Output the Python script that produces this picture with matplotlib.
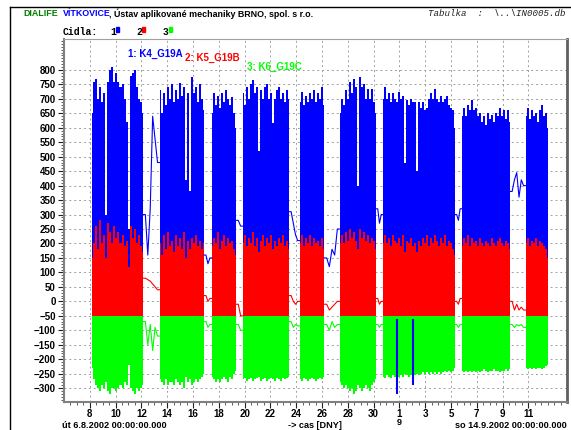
import numpy as np
import matplotlib
matplotlib.use("Agg")
import matplotlib.pyplot as plt
from matplotlib.lines import Line2D
from matplotlib.patches import Rectangle
from matplotlib.transforms import blended_transform_factory

W, H = 571, 430

# time axis: days from 6.8.2002 00:00
x_start, x_end = 0, 39
tick_days = [2, 4, 6, 8, 10, 12, 14, 16, 18, 20, 22, 24, 26, 28, 30, 32, 34, 36]
tick_labels = ["8", "10", "12", "14", "16", "18", "20", "22", "24", "26", "28",
               "30", "1", "3", "5", "7", "9", "11"]
month_day, month_label = 26, "9"
y_ticks = list(range(-300, 801, 50))

# active measuring blocks (start day, end day)
block_start = [2.17, 7.44, 11.47, 13.88, 18.29, 21.40, 24.73, 30.85, 35.81]
block_end = [6.12, 10.85, 13.33, 17.44, 20.16, 24.19, 30.31, 34.57, 37.52]

# sensor 1 (K4_G19A) - upper envelope in each block
blue_peaks = [
    [650, 760, 770, 700, 740, 690, 720, 300, 760, 800, 810, 760, 790, 760, 740, 750, 700, 620, 250, 780, 790, 800, 740, 700, 690, 650],
    [730, 650, 720, 680, 740, 700, 750, 690, 730, 700, 755, 710, 740, 420, 720, 380, 775, 720, 740, 690, 750, 700, 660],
    [650, 720, 680, 710, 670, 720, 690, 730, 700, 680, 705, 650, 600],
    [720, 680, 740, 700, 750, 765, 720, 740, 520, 730, 700, 740, 750, 700, 720, 615, 700, 730, 740, 700, 720, 690, 730, 700],
    [690, 725, 680, 710, 690, 720, 700, 730, 690, 720, 700, 740, 680],
    [650, 700, 680, 730, 700, 760, 720, 770, 740, 400, 775, 740, 750, 700, 735, 700, 735, 690, 650],
    [700, 740, 700, 720, 690, 720, 700, 690, 725, 700, 710, 480, 695, 680, 700, 690, 690, 450, 690, 670, 690, 660, 670, 700, 720, 700, 735, 700, 690, 710, 690, 700, 710, 680, 670, 660, 600],
    [640, 670, 640, 680, 660, 695, 660, 670, 640, 650, 620, 640, 610, 650, 630, 645, 620, 650, 640, 670, 640, 660, 630, 660, 620],
    [640, 670, 630, 660, 640, 650, 620, 660, 680, 640, 650, 600],
]
blue_low = -80
# sensor 1 between blocks
blue_gaps = [
    [300, 160, 320, 640, 560, 480],
    [160, 130, 150],
    [280, 260],
    [310, 270, 230, 210],
    [150, 120, 180, 160, 250],
    [320, 270, 300],
    [300, 280, 320],
    [380, 420, 445, 360, 420, 400],
]
blue_spike_days = [25.81, 27.05]
blue_spike_low = [-320, -290]

# sensor 2 (K5_G19B)
red_peaks = [
    [150, 200, 260, 180, 280, 200, 230, 150, 270, 240, 200, 260, 220, 240, 200, 230, 190, 210, 120, 260, 220, 250, 200, 230, 190, 170],
    [200, 160, 230, 180, 240, 190, 210, 170, 230, 190, 220, 180, 240, 150, 210, 180, 220, 200, 230, 190, 210, 180, 200],
    [190, 220, 200, 240, 180, 210, 230, 190, 220, 200, 210, 180, 160],
    [200, 230, 190, 220, 200, 240, 190, 220, 170, 210, 230, 190, 220, 200, 230, 180, 210, 190, 220, 200, 230, 190, 210, 180],
    [200, 230, 190, 220, 200, 230, 190, 220, 200, 210, 190, 220, 180],
    [200, 230, 200, 240, 210, 250, 220, 240, 210, 180, 250, 220, 240, 210, 230, 200, 220, 210, 180],
    [200, 230, 200, 220, 190, 230, 210, 200, 220, 190, 230, 170, 210, 200, 220, 190, 200, 170, 210, 190, 220, 200, 230, 190, 220, 200, 230, 210, 190, 220, 200, 230, 190, 210, 200, 180, 160],
    [190, 220, 200, 230, 190, 220, 200, 210, 190, 220, 200, 190, 210, 200, 190, 220, 200, 190, 210, 220, 200, 190, 210, 200, 180],
    [200, 220, 190, 210, 200, 220, 190, 210, 200, 190, 180, 150],
]
red_low = -55
red_gaps = [
    [80, 75, 70, 60, 50, 40],
    [20, 0, 10],
    [-10, -50],
    [20, 0, -10, 0],
    [-10, -30, -20, -10, 0],
    [10, -10, 0],
    [0, -10, 10],
    [0, -30, -10, -30, -20, -30],
]

# sensor 3 (K6_G19C) - lower envelope in each block
green_troughs = [
    [-230, -270, -290, -300, -310, -290, -300, -280, -310, -320, -300, -300, -310, -300, -290, -300, -280, -290, -220, -300, -310, -320, -300, -310, -300, -290],
    [-270, -280, -290, -270, -290, -280, -280, -290, -270, -280, -290, -280, -300, -260, -280, -270, -290, -280, -270, -280, -270, -260, -250],
    [-260, -270, -280, -270, -280, -270, -260, -270, -280, -260, -270, -250, -240],
    [-270, -265, -275, -270, -265, -275, -270, -265, -260, -275, -270, -265, -275, -270, -265, -270, -275, -265, -270, -275, -265, -270, -265, -260],
    [-270, -275, -265, -270, -275, -270, -265, -270, -275, -270, -265, -270, -260],
    [-280, -290, -300, -290, -300, -310, -300, -320, -310, -290, -300, -310, -300, -290, -300, -310, -290, -280, -270],
    [-260, -265, -255, -260, -265, -255, -260, -270, -260, -255, -260, -250, -255, -260, -255, -250, -255, -250, -255, -250, -245, -250, -245, -250, -245, -250, -245, -250, -245, -250, -245, -240, -245, -240, -245, -240, -230],
    [-240, -245, -240, -245, -240, -245, -240, -245, -240, -245, -240, -235, -240, -245, -240, -240, -235, -240, -240, -245, -240, -240, -235, -240, -235],
    [-230, -235, -230, -235, -230, -235, -230, -230, -235, -230, -225, -220],
]
green_high = -50
green_gaps = [
    [-70, -150, -80, -170, -90, -120],
    [-70, -90, -80],
    [-80, -100],
    [-70, -90, -80, -85],
    [-80, -100, -70, -90, -80],
    [-80, -90, -80],
    [-80, -90, -80],
    [-80, -90, -80, -85, -80, -90],
]

BLUE, RED, GREEN = "#0000ff", "#ff0000", "#00ff00"


def draw_series(ax, env, other, gaps, color, upper=True):
    for i, vals in enumerate(env):
        t = np.linspace(block_start[i], block_end[i], len(vals))
        if upper:
            ax.fill_between(t, other, vals, step="mid", color=color, lw=0)
        else:
            ax.fill_between(t, vals, other, step="mid", color=color, lw=0)
    for i, g in enumerate(gaps):
        t = np.linspace(block_end[i], block_start[i + 1], len(g) + 2)
        ax.plot(t, [g[0]] + g + [g[-1]], color=color, lw=0.8)


fig = plt.figure(figsize=(W / 100, H / 100), dpi=100)
fig.patch.set_facecolor("white")
ax = fig.add_axes([64 / W, 1 - 402 / H, 503 / W, 363 / H])

draw_series(ax, blue_peaks, blue_low, blue_gaps, BLUE)
draw_series(ax, red_peaks, red_low, red_gaps, RED)
draw_series(ax, green_troughs, green_high, green_gaps, GREEN, upper=False)
ax.vlines(blue_spike_days, blue_spike_low, -60, color=BLUE, lw=1.5)

ax.set_xlim(x_start, x_end)
ax.set_ylim(-348, 907)

ax.set_yticks(y_ticks)
ax.set_yticks(range(-340, 901, 10), minor=True)
ax.set_xticks(tick_days)
ax.set_xticklabels(tick_labels)
ax.set_xticks(np.arange(0.5, 39, 0.5), minor=True)
ax.tick_params(axis="both", which="major", length=4, width=0.8, pad=2,
               labelsize=7, colors="#222222")
ax.tick_params(axis="x", which="major", pad=1)
ax.tick_params(axis="both", which="minor", length=2, width=0.6, colors="#444444")
for lab in ax.get_xticklabels() + ax.get_yticklabels():
    lab.set_fontweight("bold")
    lab.set_fontfamily("Liberation Sans")
    lab.set_color("black")

# month number under the "1" of September
trans = blended_transform_factory(ax.transData, fig.transFigure)
ax.text(month_day, 1 - 418 / H, month_label, transform=trans, ha="center", va="top",
        fontsize=6.5, fontweight="bold", family="Liberation Sans", clip_on=False)

ax.grid(True, which="major", color="#a0a0a0", lw=0.7, ls=(0, (2, 3)))
ax.set_axisbelow(True)

ax.spines["left"].set_color("#808080")
ax.spines["left"].set_linewidth(1.5)
ax.spines["bottom"].set_color("#808080")
ax.spines["bottom"].set_linewidth(1.5)
ax.spines["top"].set_color("#a0a0a0")
ax.spines["top"].set_linewidth(0.8)
ax.spines["right"].set_color("#606060")
ax.spines["right"].set_linewidth(2)


def ftext(x, y, s, **kw):
    fig.text(x / W, 1 - y / H, s, **kw)


# outer frame
fig.add_artist(Line2D([10 / W, 1], [1 - 7 / H, 1 - 7 / H], color="black", lw=1))
fig.add_artist(Line2D([10 / W, 10 / W], [0, 1 - 7 / H], color="black", lw=1))

# header
hdr = dict(fontsize=6.4, fontweight="bold", family="Liberation Sans", va="center")
ftext(23, 14, "DIALIFE", color="#008000", **hdr)
ftext(63, 14, "VÍTKOVICE", color="#0000ff", **hdr)
ftext(109, 14, ", Ústav aplikované mechaniky BRNO, spol. s r.o.", color="black", **hdr)
ftext(566, 14, "Tabulka  :  \\..\\IN0005.db", ha="right", va="center",
      fontsize=6.6, style="italic", family="Liberation Mono", color="#222222")

mono = dict(fontsize=7, fontweight="bold", family="Liberation Mono", va="center", color="black")
ftext(63, 32, "Cidla:", **mono)
for lab, xx, c in zip(["1", "2", "3"], [110, 136, 163], [BLUE, RED, GREEN]):
    ftext(xx, 32, lab, **mono)
    fig.add_artist(Rectangle(((xx + 6) / W, 1 - 32 / H), 2.5 / W, 5 / H,
                             color=c, transform=fig.transFigure))

# sensor labels
lab_kw = dict(fontsize=7, fontweight="bold", family="Liberation Sans", va="center")
ftext(128, 54, "1: K4_G19A", color=BLUE, **lab_kw)
ftext(185, 58, "2: K5_G19B", color=RED, **lab_kw)
ftext(247, 67, "3: K6_G19C", color=GREEN, **lab_kw)

# footer
foot = dict(fontsize=6.6, fontweight="bold", family="Liberation Sans", va="center", color="black")
ftext(62, 425, "út 6.8.2002 00:00:00.000", **foot)
ftext(315, 425, "-> cas [DNY]", ha="center", **foot)
ftext(567, 425, "so 14.9.2002 00:00:00.000", ha="right", **foot)

fig.savefig("out.png", dpi=100)
